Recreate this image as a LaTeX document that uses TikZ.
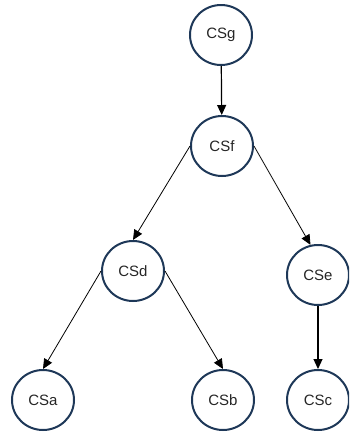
\documentclass[tikz,border=0pt]{standalone}
\usepackage{fontspec}
\setmainfont{Liberation Sans}
\usetikzlibrary{arrows.meta,shapes.geometric}
\definecolor{csblue}{HTML}{1E3858}
\begin{document}
\begin{tikzpicture}[>={Triangle[length=10pt,width=9pt]},x=1pt,y=-1pt,
	cs/.style={ellipse,draw=csblue,line width=2pt,minimum width=62pt,minimum height=60pt,inner sep=0pt,font=\fontsize{15}{17}\selectfont,text=black!85},
	link/.style={->,line width=0.8pt,black}]
	\useasboundingbox (0,0) rectangle (349,437);
	\clip (0,0) rectangle (349,437);
	\node[cs] (CSg) at (221,35) {CSg};
	\node[cs] (CSf) at (222,146) {CSf};
	\node[cs] (CSd) at (133,271) {CSd};
	\node[cs] (CSe) at (318,275) {CSe};
	\node[cs] (CSa) at (43,400) {CSa};
	\node[cs] (CSb) at (223,400) {CSb};
	\node[cs] (CSc) at (318,400) {CSc};
	\draw[link,line width=1.2pt] (CSg) -- (CSf);
	\draw[link] (CSf.west) -- (CSd.north);
	\draw[link] (CSf.east) -- (CSe.104);
	\draw[link] (CSd.west) -- (CSa.north);
	\draw[link] (CSd.east) -- (CSb.north);
	\draw[link,line width=1.2pt] (CSe) -- (CSc);
\end{tikzpicture}
\end{document}
